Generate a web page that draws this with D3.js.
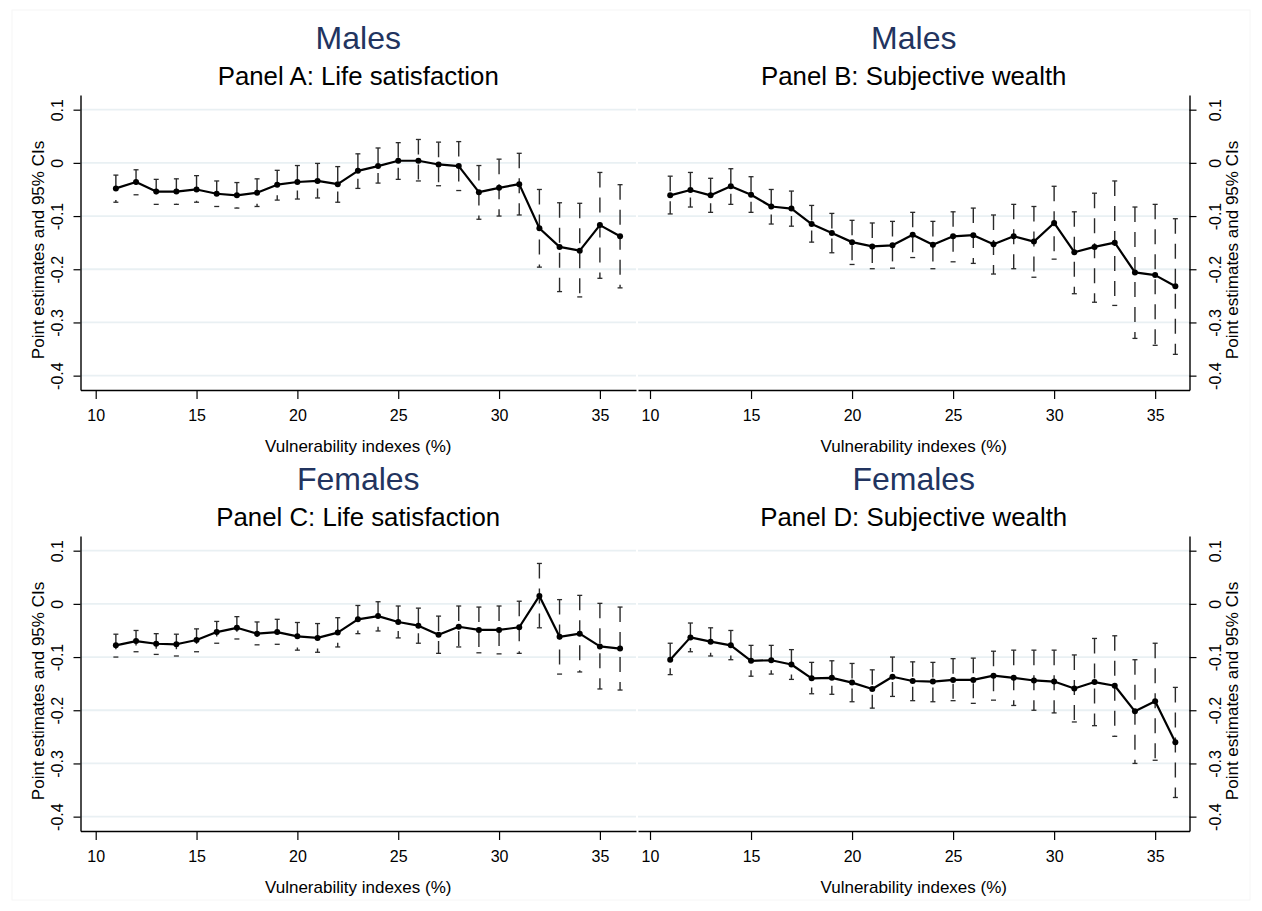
<!DOCTYPE html>
<html>
<head>
<meta charset="utf-8">
<script src="https://cdn.jsdelivr.net/npm/d3@7"></script>
<style>
  html, body { margin: 0; padding: 0; background: #fff; }
  svg { display: block; font-family: "Liberation Sans", Arial, sans-serif; }
</style>
</head>
<body>
<svg id="chart" width="1262" height="911"></svg>
<script>
// ---------------- DATA ----------------
const vulnerability = [11,12,13,14,15,16,17,18,19,20,21,22,23,24,25,26,27,28,29,30,31,32,33,34,35,36];

const xTicks = [10, 15, 20, 25, 30, 35];
const xTickLabels = ["10", "15", "20", "25", "30", "35"];
const yTicks = [0.1, 0, -0.1, -0.2, -0.3, -0.4];
const yTickLabels = ["0.1", "0", "-0.1", "-0.2", "-0.3", "-0.4"];

const groupTitles = ["Males", "Males", "Females", "Females"];
const panelTitles = ["Panel A: Life satisfaction", "Panel B: Subjective wealth",
                     "Panel C: Life satisfaction", "Panel D: Subjective wealth"];
const xAxisTitle = "Vulnerability indexes (%)";
const yAxisTitle = "Point estimates and 95% CIs";

// Panel A: Males, life satisfaction
const panelA_est = [-0.048,-0.036,-0.054,-0.054,-0.050,-0.058,-0.061,-0.056,-0.041,-0.036,-0.034,-0.040,-0.015,-0.006,0.004,0.004,-0.003,-0.006,-0.055,-0.047,-0.040,-0.123,-0.158,-0.165,-0.117,-0.138];
const panelA_hi  = [-0.023,-0.013,-0.031,-0.030,-0.024,-0.034,-0.037,-0.030,-0.014,-0.005,-0.001,-0.007,0.017,0.028,0.038,0.044,0.039,0.040,-0.005,0.007,0.018,-0.050,-0.075,-0.076,-0.018,-0.041];
const panelA_lo  = [-0.074,-0.060,-0.078,-0.078,-0.074,-0.082,-0.085,-0.082,-0.070,-0.068,-0.066,-0.074,-0.048,-0.038,-0.031,-0.034,-0.043,-0.052,-0.106,-0.100,-0.098,-0.196,-0.242,-0.252,-0.217,-0.235];

// Panel B: Males, subjective wealth
const panelB_est = [-0.061,-0.051,-0.061,-0.044,-0.060,-0.082,-0.086,-0.115,-0.132,-0.149,-0.157,-0.155,-0.135,-0.154,-0.138,-0.136,-0.153,-0.138,-0.148,-0.113,-0.168,-0.158,-0.150,-0.206,-0.211,-0.232];
const panelB_hi  = [-0.025,-0.018,-0.029,-0.011,-0.026,-0.050,-0.053,-0.080,-0.095,-0.108,-0.113,-0.110,-0.093,-0.110,-0.092,-0.085,-0.098,-0.078,-0.082,-0.044,-0.092,-0.057,-0.034,-0.083,-0.078,-0.105];
const panelB_lo  = [-0.096,-0.083,-0.093,-0.078,-0.093,-0.115,-0.119,-0.149,-0.169,-0.191,-0.199,-0.198,-0.178,-0.199,-0.186,-0.189,-0.209,-0.199,-0.215,-0.181,-0.246,-0.262,-0.268,-0.330,-0.343,-0.360];

// Panel C: Females, life satisfaction
const panelC_est = [-0.078,-0.070,-0.075,-0.076,-0.068,-0.053,-0.045,-0.056,-0.053,-0.061,-0.064,-0.054,-0.029,-0.023,-0.034,-0.041,-0.058,-0.043,-0.049,-0.049,-0.044,0.015,-0.062,-0.056,-0.080,-0.084];
const panelC_hi  = [-0.057,-0.050,-0.056,-0.057,-0.047,-0.033,-0.024,-0.034,-0.029,-0.035,-0.037,-0.026,-0.003,0.004,-0.004,-0.008,-0.023,-0.004,-0.006,-0.004,0.005,0.076,0.008,0.016,0.001,-0.006];
const panelC_lo  = [-0.100,-0.090,-0.095,-0.098,-0.090,-0.074,-0.066,-0.077,-0.076,-0.087,-0.091,-0.081,-0.056,-0.051,-0.064,-0.074,-0.093,-0.081,-0.092,-0.094,-0.093,-0.045,-0.132,-0.128,-0.160,-0.162];

// Panel D: Females, subjective wealth
const panelD_est = [-0.105,-0.063,-0.071,-0.078,-0.107,-0.106,-0.114,-0.140,-0.139,-0.148,-0.160,-0.137,-0.145,-0.146,-0.143,-0.143,-0.135,-0.139,-0.144,-0.146,-0.159,-0.147,-0.154,-0.202,-0.183,-0.260];
const panelD_hi  = [-0.074,-0.036,-0.045,-0.050,-0.078,-0.078,-0.086,-0.110,-0.107,-0.112,-0.124,-0.100,-0.109,-0.110,-0.103,-0.102,-0.089,-0.087,-0.087,-0.087,-0.096,-0.065,-0.060,-0.105,-0.074,-0.157];
const panelD_lo  = [-0.133,-0.090,-0.098,-0.105,-0.136,-0.132,-0.142,-0.169,-0.170,-0.184,-0.196,-0.174,-0.182,-0.184,-0.182,-0.187,-0.181,-0.191,-0.200,-0.205,-0.222,-0.229,-0.249,-0.300,-0.294,-0.364];

// ---------------- LAYOUT ----------------
const svg = d3.select("#chart");
const FONT = '"Liberation Sans", Arial, sans-serif';
const titleColor = "#22345f";
const gridColor = "#e9f0f3";

svg.append("rect").attr("x", 12).attr("y", 10).attr("width", 1238).attr("height", 890)
  .attr("fill", "none").attr("stroke", "#f6f6f6").attr("stroke-width", 1);

const panels = [
  {est: panelA_est, hi: panelA_hi, lo: panelA_lo, side: "left",  x0: 80.5, x1: 636,    xd: [9.246, 36.79], top: 0},
  {est: panelB_est, hi: panelB_hi, lo: panelB_lo, side: "right", x0: 638,  x1: 1189.5, xd: [9.406, 36.70], top: 0},
  {est: panelC_est, hi: panelC_hi, lo: panelC_lo, side: "left",  x0: 80.5, x1: 636,    xd: [9.246, 36.79], top: 441},
  {est: panelD_est, hi: panelD_hi, lo: panelD_lo, side: "right", x0: 638,  x1: 1189.5, xd: [9.406, 36.70], top: 441}
];

panels.forEach((p, i) => {
  const yTop = 95 + p.top, yBot = 390 + p.top;
  const x = d3.scaleLinear().domain(p.xd).range([p.x0, p.x1]);
  const y = d3.scaleLinear().domain([-0.427, 0.1276]).range([yBot, yTop]);
  const g = svg.append("g");
  const cx = (p.x0 + p.x1) / 2;

  // titles
  g.append("text").attr("x", cx).attr("y", 49 + p.top).attr("text-anchor", "middle")
    .attr("font-size", 32).attr("fill", titleColor).text(groupTitles[i]);
  g.append("text").attr("x", cx).attr("y", 85 + p.top).attr("text-anchor", "middle")
    .attr("font-size", 25.8).attr("fill", "#000").text(panelTitles[i]);

  // gridlines
  g.append("g").selectAll("line").data(yTicks).join("line")
    .attr("x1", p.x0).attr("x2", p.x1)
    .attr("y1", d => y(d)).attr("y2", d => y(d))
    .attr("stroke", gridColor).attr("stroke-width", 1.8);

  // y axis
  const isLeft = p.side === "left";
  const yAxis = (isLeft ? d3.axisLeft(y) : d3.axisRight(y))
    .tickValues(yTicks).tickFormat((d, k) => yTickLabels[k]).tickSize(7).tickSizeOuter(0);
  const ya = g.append("g").attr("transform", `translate(${isLeft ? p.x0 : p.x1},0)`).call(yAxis);
  ya.select(".domain").attr("stroke", "#000").attr("stroke-width", 1.4);
  ya.selectAll(".tick line").attr("stroke", "#000").attr("stroke-width", 1.2);
  ya.selectAll(".tick text")
    .attr("x", null).attr("dy", null).attr("text-anchor", "middle")
    .attr("transform", `translate(${isLeft ? -18 : 31},0) rotate(-90)`)
    .attr("font-size", 16).attr("font-family", FONT).attr("fill", "#000");

  // y axis title
  const ytx = isLeft ? 44 : 1238;
  g.append("text").attr("transform", `translate(${ytx},${250 + p.top}) rotate(-90)`)
    .attr("text-anchor", "middle").attr("font-size", 17).attr("fill", "#000").text(yAxisTitle);

  // x axis
  const xAxis = d3.axisBottom(x).tickValues(xTicks).tickFormat((d, k) => xTickLabels[k])
    .tickSize(9).tickSizeOuter(0);
  const xa = g.append("g").attr("transform", `translate(0,${yBot})`).call(xAxis);
  xa.select(".domain").attr("stroke", "#000").attr("stroke-width", 1.4);
  xa.selectAll(".tick line").attr("stroke", "#000").attr("stroke-width", 1.2);
  xa.selectAll(".tick text").attr("y", 31).attr("dy", null)
    .attr("font-size", 16).attr("font-family", FONT).attr("fill", "#000");

  g.append("text").attr("x", cx).attr("y", 452 + p.top).attr("text-anchor", "middle")
    .attr("font-size", 17).attr("fill", "#000").text(xAxisTitle);

  // data
  const rows = vulnerability.map((v, k) => ({v, est: p.est[k], hi: p.hi[k], lo: p.lo[k]}));

  // CI (dashed range with caps)
  const ci = g.append("g");
  ci.selectAll("line.rng").data(rows).join("line").attr("class", "rng")
    .attr("x1", d => x(d.v)).attr("x2", d => x(d.v))
    .attr("y1", d => y(d.hi)).attr("y2", d => y(d.lo))
    .attr("stroke", "#2a2a2a").attr("stroke-width", 1.4).attr("stroke-dasharray", "15,10");
  ci.selectAll("line.capH").data(rows).join("line").attr("class", "capH")
    .attr("x1", d => x(d.v) - 2.5).attr("x2", d => x(d.v) + 2.5)
    .attr("y1", d => y(d.hi)).attr("y2", d => y(d.hi))
    .attr("stroke", "#2a2a2a").attr("stroke-width", 1.3);
  ci.selectAll("line.capL").data(rows).join("line").attr("class", "capL")
    .attr("x1", d => x(d.v) - 2.5).attr("x2", d => x(d.v) + 2.5)
    .attr("y1", d => y(d.lo)).attr("y2", d => y(d.lo))
    .attr("stroke", "#2a2a2a").attr("stroke-width", 1.3);

  // connected line
  const line = d3.line().x(d => x(d.v)).y(d => y(d.est));
  g.append("path").datum(rows).attr("d", line)
    .attr("fill", "none").attr("stroke", "#000").attr("stroke-width", 2.2)
    .attr("stroke-linejoin", "round");

  // points
  g.append("g").selectAll("circle").data(rows).join("circle")
    .attr("cx", d => x(d.v)).attr("cy", d => y(d.est)).attr("r", 3)
    .attr("fill", "#000");
});
</script>
</body>
</html>
